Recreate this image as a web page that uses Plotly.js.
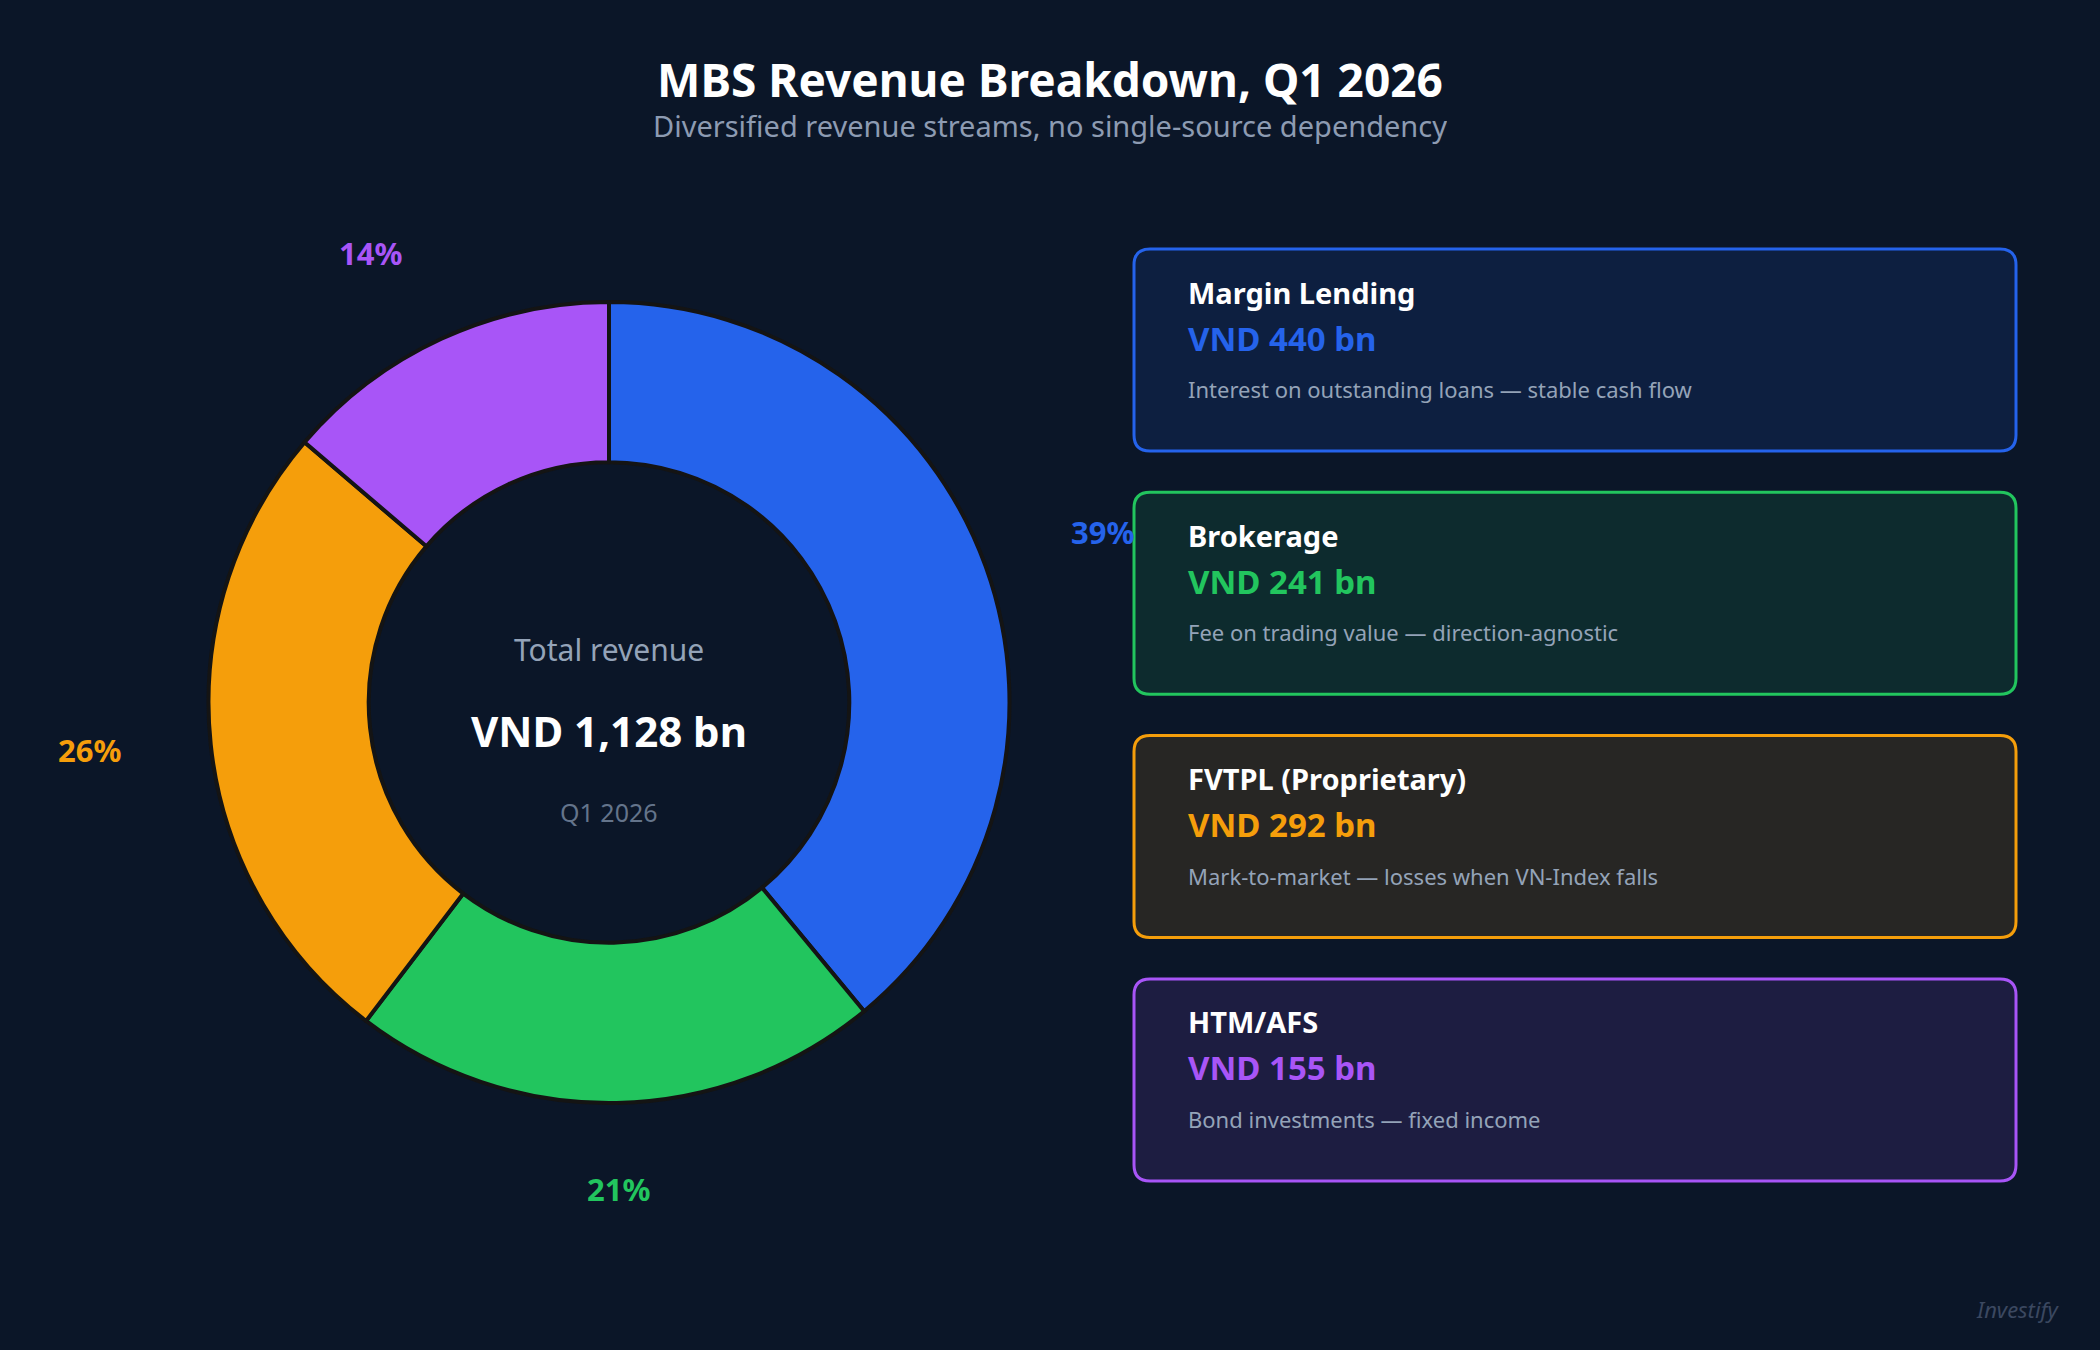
<!DOCTYPE html>
<html>
<head>
<meta charset="utf-8">
<script src="https://cdn.plot.ly/plotly-3.0.1.min.js"></script>
<style>
html, body { margin: 0; padding: 0; background: #0b1628; }
#chart { width: 2100px; height: 1350px; }
</style>
</head>
<body>
<div id="chart"></div>
<script>
// ---- data ----
const categories = ['Margin Lending', 'Brokerage', 'FVTPL (Proprietary)', 'HTM/AFS'];
const values = [440, 241, 292, 155];
const colors = ['#2563eb', '#22c55e', '#f59e0b', '#a855f7'];
const descriptions = [
  'Interest on outstanding loans \u2014 stable cash flow',
  'Fee on trading value \u2014 direction-agnostic',
  'Mark-to-market \u2014 losses when VN-Index falls',
  'Bond investments \u2014 fixed income'
];
const titleText = 'MBS Revenue Breakdown, Q1 2026';
const subtitleText = 'Diversified revenue streams, no single-source dependency';
const centerLabel = 'Total revenue';
const periodLabel = 'Q1 2026';
const watermark = 'Investify';

// ---- layout helpers (pixel -> paper) ----
const W = 2100, H = 1350;
const px = x => x / W;
const py = y => 1 - y / H;
const FONT = 'Noto Sans, Open Sans, DejaVu Sans, sans-serif';

const total = values.reduce((a, b) => a + b, 0);

// donut geometry
const cx = 609, cy = 702.5, R = 400.5;

function hexToRgba(hex, a) {
  const n = parseInt(hex.slice(1), 16);
  return 'rgba(' + ((n >> 16) & 255) + ',' + ((n >> 8) & 255) + ',' + (n & 255) + ',' + a + ')';
}

function roundRectPath(x0, y0, x1, y1, r) {
  const X = px, Y = py;
  return 'M' + X(x0 + r) + ',' + Y(y0) +
    ' L' + X(x1 - r) + ',' + Y(y0) +
    ' Q' + X(x1) + ',' + Y(y0) + ' ' + X(x1) + ',' + Y(y0 + r) +
    ' L' + X(x1) + ',' + Y(y1 - r) +
    ' Q' + X(x1) + ',' + Y(y1) + ' ' + X(x1 - r) + ',' + Y(y1) +
    ' L' + X(x0 + r) + ',' + Y(y1) +
    ' Q' + X(x0) + ',' + Y(y1) + ' ' + X(x0) + ',' + Y(y1 - r) +
    ' L' + X(x0) + ',' + Y(y0 + r) +
    ' Q' + X(x0) + ',' + Y(y0) + ' ' + X(x0 + r) + ',' + Y(y0) + ' Z';
}

const annotations = [];
const shapes = [];

function addText(text, x, y, size, color, opts) {
  opts = opts || {};
  const a = {
    xref: 'paper', yref: 'paper', x: px(x), y: py(y),
    text: text, showarrow: false,
    xanchor: opts.xanchor || 'center', yanchor: 'middle',
    font: { family: FONT, size: size, color: color, weight: opts.weight || 400, style: opts.style || 'normal' }
  };
  if (opts.height) a.height = opts.height;
  annotations.push(a);
}

// titles
addText('<b>' + titleText + '</b>', 1050, 79, 46, '#ffffff', { height: 54 });
addText(subtitleText, 1050, 125, 29, '#8d9bb2', { height: 38 });

// center texts
addText(centerLabel, cx, 650, 30, '#94a3b8');
addText('<b>VND ' + total.toLocaleString('en-US') + ' bn</b>', cx, 730, 42, '#ffffff');
addText(periodLabel, cx, 812, 25, '#64748b');

// percentage labels around donut
let cum = 0;
values.forEach((v, i) => {
  const mid = (cum + v / 2) / total;
  cum += v;
  const th = mid * 2 * Math.PI;
  const s = Math.sin(th);
  const x = cx + 489 * s;
  const y = cy - 4 - 491 * Math.cos(th);
  const anchor = s > 0.1 ? 'left' : (s < -0.1 ? 'right' : 'center');
  addText('<b>' + Math.round(v / total * 100) + '%</b>', x, y, 31, colors[i], { xanchor: anchor });
});

// cards
const cardX0 = 1134, cardX1 = 2016, cardTop0 = 249, cardH = 202, cardStep = 243.3;
const textX = 1186;
categories.forEach((c, i) => {
  const top = cardTop0 + i * cardStep;
  shapes.push({
    type: 'path', xref: 'paper', yref: 'paper',
    path: roundRectPath(cardX0, top, cardX1, top + cardH, 16),
    fillcolor: hexToRgba(colors[i], 0.12),
    line: { color: colors[i], width: 3 },
    layer: 'below'
  });
  addText('<b>' + c + '</b>', textX, top + 43, 29, '#ffffff', { xanchor: 'left' });
  addText('<b>VND ' + values[i] + ' bn</b>', textX, top + 89, 33, colors[i], { xanchor: 'left' });
  addText(descriptions[i], textX, top + 140, 22, '#94a3b8', { xanchor: 'left' });
});

// watermark
addText(watermark, 2062, 1309, 22, '#3b4860', { xanchor: 'right', style: 'italic' });

const trace = {
  type: 'pie',
  labels: categories,
  values: values,
  sort: false,
  direction: 'clockwise',
  rotation: 0,
  hole: 0.6,
  textinfo: 'none',
  hoverinfo: 'label+value+percent',
  marker: { colors: colors, line: { color: '#141414', width: 4 } },
  domain: { x: [px(cx - R), px(cx + R)], y: [py(cy + R), py(cy - R)] },
  showlegend: false
};

const layout = {
  width: W, height: H,
  margin: { l: 0, r: 0, t: 0, b: 0 },
  paper_bgcolor: '#0b1628',
  plot_bgcolor: '#0b1628',
  showlegend: false,
  annotations: annotations,
  shapes: shapes,
  font: { family: FONT }
};

Plotly.newPlot('chart', [trace], layout, { displayModeBar: false, staticPlot: true });
</script>
</body>
</html>
